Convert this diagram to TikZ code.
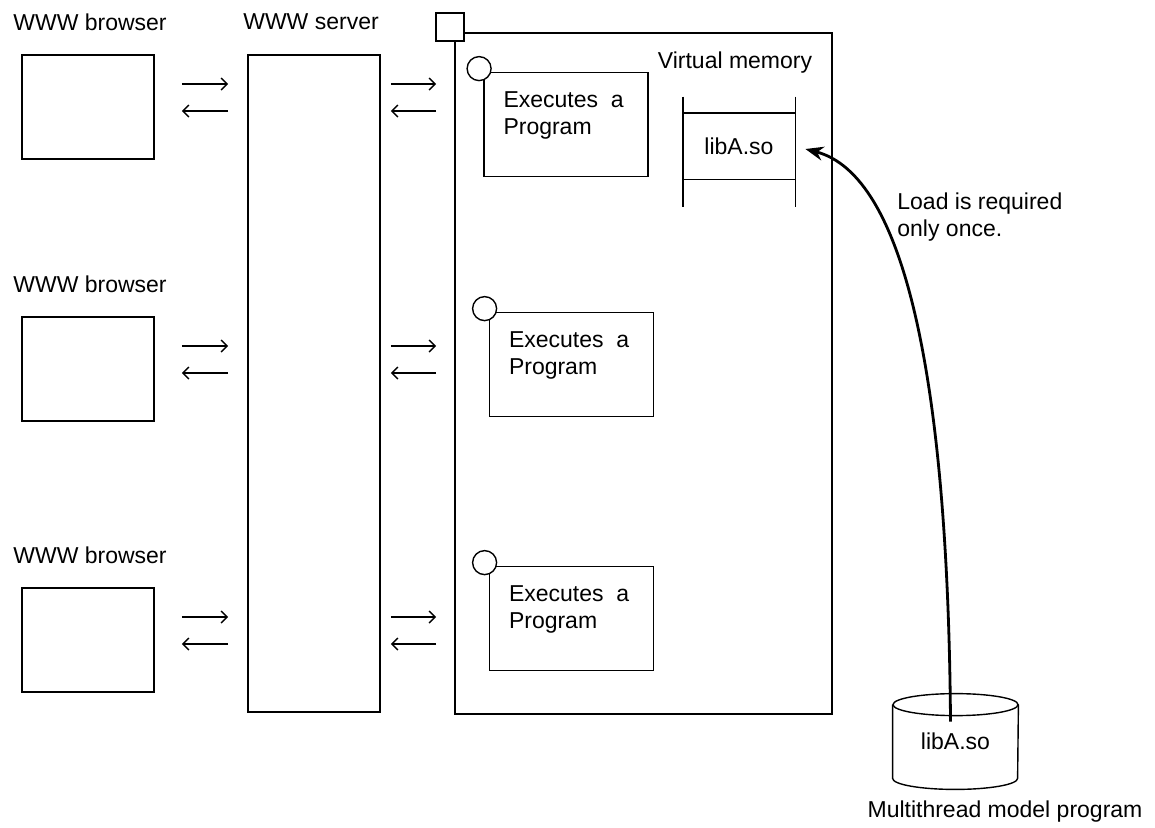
\documentclass[tikz,border=0pt]{standalone}
\usepackage{fontspec}
\setmainfont{Liberation Sans}
\usetikzlibrary{arrows.meta, calc}

\begin{document}
\begin{tikzpicture}[
        x=0.5pt, y=-0.5pt,
        font=\fontsize{11.5}{13.5}\selectfont,
        box/.style={rectangle, draw, line width=0.9pt, inner sep=0pt},
        browser/.style={box, minimum width=66pt, minimum height=52pt},
        execbox/.style={box, minimum width=82pt, minimum height=52pt},
        corner/.style={circle, draw, fill=white, line width=0.7pt, minimum size=12pt, inner sep=0pt},
        lbl/.style={inner sep=0pt},
        arr/.style={line width=0.7pt, -{Straight Barb[length=3pt, width=6pt]}},
        bigarrow/.style={line width=1.4pt, -{Stealth[length=9pt, width=7pt]}}
    ]
        \useasboundingbox (0,0) rectangle (1155,827);

        % browsers and server
        \node (b1) [browser] at (88,107) {};
        \node (b2) [browser] at (88,369) {};
        \node (b3) [browser] at (88,640) {};
        \node (b1l) [lbl] at (90,22) {WWW browser};
        \node (b2l) [lbl] at (90,284) {WWW browser};
        \node (b3l) [lbl] at (90,555) {WWW browser};
        \node (srv) [box, minimum width=66pt, minimum height=328.5pt] at (314,383.5) {};
        \node (srvl) [lbl] at (311,22) {WWW server};

        % process
        \node (proc) [box, minimum width=188.5pt, minimum height=340.5pt] at (643.5,373.5) {};
        \node (sq) [box, fill=white, minimum size=14pt] at ($(proc.north west)+(-4,-5)$) {};

        \node (e1) [execbox] at (566,124.5) {};
        \node (e2) [execbox] at (571.5,364.5) {};
        \node (e3) [execbox] at (571.5,618.5) {};
        \foreach \e in {e1, e2, e3} {
            \node (\e c) [corner] at ($(\e.north west)+(-4,-3)$) {};
            \node (\e t) [lbl, anchor=north west, align=left] at ($(\e.north west)+(20,20)$) {Executes\ \ a\\Program};
        }

        % virtual memory
        \node (vm) [lbl] at (735,63) {Virtual memory};
        \node (mem) [lbl, minimum width=56pt, minimum height=33pt] at (739,146) {libA.so};
        \draw [line width=0.9pt] (mem.north west) -- (mem.north east);
        \draw [line width=0.9pt] (mem.south west) -- (mem.south east);
        \draw [line width=0.9pt] ($(mem.north west)+(0,-16)$) -- ($(mem.south west)+(0,28)$);
        \draw [line width=0.9pt] ($(mem.north east)+(0,-16)$) -- ($(mem.south east)+(0,28)$);

        % library file
        \node (cyl) [lbl, minimum width=62.5pt, minimum height=36.5pt, text depth=-4pt] at (955.5,741.5) {libA.so};
        \draw [line width=0.7pt] (cyl.north west) -- (cyl.south west)
            arc [start angle=180, end angle=0, x radius=62.5, y radius=11] -- (cyl.north east);
        \draw [line width=0.7pt] (cyl.north) ellipse [x radius=62.5, y radius=11];
        \node (cyll) [lbl] at (1005,812) {Multithread model program};
        \coordinate (cs) at ($(cyl.north)+(-5,17)$);

        \node (load) [lbl, anchor=north west, align=left] at (897,192) {Load is required\\only once.};

        % requests
        \foreach \b in {b1, b2, b3} {
            \draw [arr, shorten <=13.5pt, shorten >=9.5pt] ([yshift=11.5pt]\b.east) -- ([yshift=11.5pt]\b.east -| srv.west);
            \draw [arr, shorten <=9.5pt, shorten >=13.5pt] ([yshift=-2pt]\b.east -| srv.west) -- ([yshift=-2pt]\b.east);
            \draw [arr, shorten <=5pt, shorten >=9pt] ([yshift=11.5pt]\b.east -| srv.east) -- ([yshift=11.5pt]\b.east -| proc.west);
            \draw [arr, shorten <=9pt, shorten >=5pt] ([yshift=-2pt]\b.east -| proc.west) -- ([yshift=-2pt]\b.east -| srv.east);
        }

        \draw [bigarrow] (cs) .. controls (948,380) and (905,175) .. ($(mem.east)+(10,3)$);
    \end{tikzpicture}
\end{document}
